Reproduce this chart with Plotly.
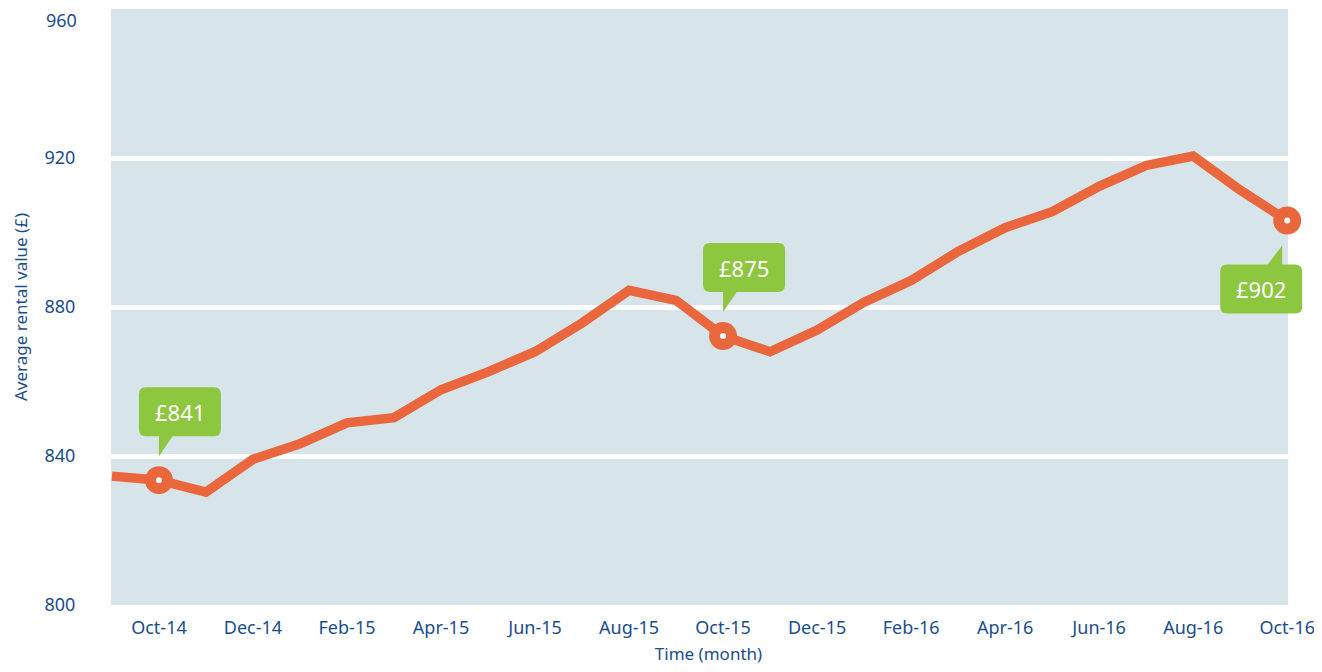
import plotly.graph_objects as go

months = ["Sep-14", "Oct-14", "Nov-14", "Dec-14", "Jan-15", "Feb-15", "Mar-15",
          "Apr-15", "May-15", "Jun-15", "Jul-15", "Aug-15", "Sep-15", "Oct-15",
          "Nov-15", "Dec-15", "Jan-16", "Feb-16", "Mar-16", "Apr-16", "May-16",
          "Jun-16", "Jul-16", "Aug-16", "Sep-16", "Oct-16"]
values = [834.6, 833.5, 830.3, 839.1, 843.3, 848.9, 850.3, 857.8, 862.6, 868.0,
          875.7, 884.5, 881.8, 872.2, 868.0, 873.8, 881.3, 887.1, 894.9, 901.3,
          905.6, 912.4, 918.0, 920.5, 911.4, 903.2]
tick_labels = months[1::2]
y_ticks = [800, 840, 880, 920]
y_top = 960

highlight_months = ["Oct-14", "Oct-15", "Oct-16"]
highlight_labels = ["£841", "£875", "£902"]
highlight_side = ["above", "above", "below"]

ORANGE = "#EA663D"
GREEN = "#8DC63F"
BLUE = "#1B4D8C"
BG = "#D7E4EA"
FONT = "Noto Sans, Open Sans, sans-serif"

hv = [values[months.index(m)] for m in highlight_months]

fig = go.Figure()
fig.add_trace(go.Scatter(x=months, y=values, mode="lines",
                         line=dict(color=ORANGE, width=9.5), cliponaxis=False,
                         hoverinfo="skip"))
fig.add_trace(go.Scatter(x=highlight_months, y=hv, mode="markers",
                         marker=dict(color=ORANGE, size=28), cliponaxis=False,
                         hoverinfo="skip"))
fig.add_trace(go.Scatter(x=highlight_months, y=hv, mode="markers",
                         marker=dict(color="white", size=6), cliponaxis=False,
                         hoverinfo="skip"))


def rounded_rect(x0, x1, y0, y1, r):
    return (f"M {x0 + r},{y0} L {x1 - r},{y0} Q {x1},{y0} {x1},{y0 + r} "
            f"L {x1},{y1 - r} Q {x1},{y1} {x1 - r},{y1} L {x0 + r},{y1} "
            f"Q {x0},{y1} {x0},{y1 - r} L {x0},{y0 + r} Q {x0},{y0} {x0 + r},{y0} Z")


# plot background panel (the axis range is a little wider on the right so the
# last callout is not clipped)
shapes = [dict(type="rect", xref="x", yref="y", x0=-0.02, x1=len(months) - 1 + 0.02,
               y0=800, y1=y_top, fillcolor=BG, line=dict(width=0), layer="below")]
annotations = []
for m, v, lab, side in zip(highlight_months, hv, highlight_labels, highlight_side):
    if side == "above":
        box = rounded_rect(-20, 62, 44, 93, 7)
        tail = "M 0,24 L 0,46 L 15,46 Z"
        xs, ys = 21, 68.5
    else:
        box = rounded_rect(-67, 15, -93, -44, 7)
        tail = "M -5,-25 L -5,-46 L -21,-46 Z"
        xs, ys = -26, -68.5
    for p in (box, tail):
        shapes.append(dict(type="path", xref="x", yref="y", xsizemode="pixel",
                           ysizemode="pixel", xanchor=m, yanchor=v, path=p,
                           fillcolor=GREEN, line=dict(width=0), layer="above"))
    annotations.append(dict(x=m, y=v, xref="x", yref="y", text=lab, showarrow=False,
                            xshift=xs, yshift=ys,
                            font=dict(family=FONT, size=22, color="white")))

annotations.append(dict(x=0, y=y_top, xref="paper", yref="y", text=str(y_top),
                        showarrow=False, xanchor="right", yanchor="middle",
                        xshift=-34, yshift=-11, borderpad=0, borderwidth=0,
                        font=dict(family=FONT, size=18, color=BLUE)))

fig.update_layout(
    width=1314, height=664,
    margin=dict(l=103, r=16, t=1, b=67),
    paper_bgcolor="white", plot_bgcolor="white",
    showlegend=False,
    shapes=shapes, annotations=annotations,
    font=dict(family=FONT, color=BLUE),
)
fig.update_xaxes(
    type="category", categoryorder="array", categoryarray=months,
    range=[-0.02, 25.4], tickvals=tick_labels, ticktext=tick_labels,
    showgrid=False, zeroline=False, showline=False,
    ticks="outside", ticklen=6, tickcolor="rgba(0,0,0,0)",
    tickfont=dict(size=18, color=BLUE),
    title=dict(text="Time (month)", font=dict(size=17, color=BLUE), standoff=10),
)
fig.update_yaxes(
    range=[800, 960], tickvals=y_ticks,
    showgrid=True, gridcolor="white", gridwidth=5, zeroline=False, showline=False,
    ticks="outside", ticklen=31, tickcolor="rgba(0,0,0,0)",
    tickfont=dict(size=18, color=BLUE),
    title=dict(text="Average rental value (£)", font=dict(size=17, color=BLUE), standoff=12),
)

fig.write_html("out.html")
